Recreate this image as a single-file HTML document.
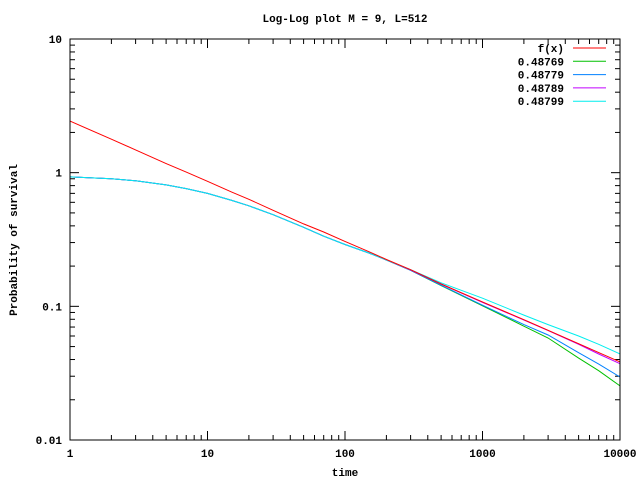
<!DOCTYPE html>
<html><head><meta charset="utf-8"><style>
body{margin:0;background:#fff}
svg text{font-family:"Liberation Mono","DejaVu Sans Mono",monospace;font-weight:bold;font-size:11px;fill:#000}
</style></head><body>
<svg id="chart" width="640" height="480" viewBox="0 0 640 480" xmlns="http://www.w3.org/2000/svg">
<rect width="640" height="480" fill="#fff"/>
<text x="345" y="22" text-anchor="middle">Log-Log plot M = 9, L=512</text>
<text x="345" y="476" text-anchor="middle">time</text>
<text transform="translate(17,240) rotate(-90)" text-anchor="middle">Probability of survival</text>
<g id="ticks"></g>
<g id="series"></g>
<rect x="70" y="39" width="550" height="401" fill="none" stroke="#000" stroke-width="1"/>
<g id="legend"></g>
</svg>
<script>
const times  = [1,2,3,5,7,10,15,20,30,50,70,100,150,200,300,500,1000,2000,3000,5000,7000,10000];
const fx     = [2.43,1.78,1.48,1.17,1.01,0.862,0.716,0.632,0.523,0.414,0.36,0.306,0.256,0.224,0.188,0.147,0.108,0.0795,0.0662,0.0525,0.0451,0.0384];
const s48769 = [0.93,0.90,0.87,0.81,0.76,0.70,0.62,0.565,0.485,0.39,0.335,0.29,0.25,0.222,0.186,0.143,0.101,0.071,0.058,0.041,0.033,0.0254];
const s48779 = [0.93,0.90,0.87,0.81,0.76,0.70,0.62,0.565,0.485,0.39,0.335,0.29,0.25,0.222,0.186,0.144,0.102,0.073,0.061,0.045,0.037,0.0296];
const s48789 = [0.93,0.90,0.87,0.81,0.76,0.70,0.62,0.565,0.485,0.39,0.335,0.29,0.25,0.222,0.187,0.147,0.107,0.079,0.066,0.052,0.044,0.0372];
const s48799 = [0.93,0.90,0.87,0.81,0.76,0.70,0.62,0.565,0.485,0.39,0.335,0.29,0.25,0.222,0.188,0.150,0.115,0.086,0.073,0.060,0.052,0.0441];
const seriesNames = ["f(x)","0.48769","0.48779","0.48789","0.48799"];
const xTickLabels = ["1","10","100","1000","10000"];
const yTickLabels = ["0.01","0.1","1","10"];

const NS="http://www.w3.org/2000/svg";
const X0=70,X1=620,Y0=440,Y1=39;
const xs=t=>X0+Math.log10(t)/4*(X1-X0);
const ys=v=>Y0-(Math.log10(v)+2)/3*(Y0-Y1);
function mk(tag,attrs,parent){const e=document.createElementNS(NS,tag);for(const k in attrs)e.setAttribute(k,attrs[k]);parent.appendChild(e);return e;}
const tg=document.getElementById('ticks');
for(let d=0;d<4;d++){for(let m=1;m<10;m++){const t=Math.pow(10,d)*m;const x=xs(t);const L=m==1?9:5;
 const a=mk('line',{x1:x,x2:x,y1:Y0,y2:Y0-L,stroke:'#000'},tg);
 
 
 const b=mk('line',{x1:x,x2:x,y1:Y1,y2:Y1+L,stroke:'#000'},tg);
 
 }}
xTickLabels.forEach((s,i)=>{const e=mk('text',{x:xs(Math.pow(10,i)),y:457,'text-anchor':'middle'},tg);e.textContent=s;
 
 });
for(let d=0;d<3;d++){for(let m=1;m<10;m++){const v=Math.pow(10,d-2)*m;const y=ys(v);const L=m==1?9:5;
 const a=mk('line',{x1:X0,x2:X0+L,y1:y,y2:y,stroke:'#000'},tg);
 
 
 const b=mk('line',{x1:X1,x2:X1-L,y1:y,y2:y,stroke:'#000'},tg);
 
 }}
yTickLabels.forEach((s,i)=>{const e=mk('text',{x:62,y:ys(Math.pow(10,i-2))+4,'text-anchor':'end'},tg);e.textContent=s;
 
 });
const data=[fx,s48769,s48779,s48789,s48799];
const colors=["#ff0000","#00c000","#0080ff","#c000ff","#00eeee"];
const sg=document.getElementById('series');const lg=document.getElementById('legend');
[1,2,3,4,0].forEach(i=>{const pts=times.map((t,j)=>xs(t).toFixed(1)+','+ys(data[i][j]).toFixed(1)).join(' ');
 const p=mk('polyline',{points:pts,fill:'none',stroke:colors[i],'stroke-width':1},sg);
 
 });
seriesNames.forEach((n,i)=>{const y=48+i*13.3;
 const t=mk('text',{x:564,y:y+4,'text-anchor':'end'},lg);t.textContent=n;
 
 
 const l=mk('line',{x1:573,x2:606,y1:y,y2:y,stroke:colors[i]},lg);
 
 });
</script>
</body></html>
